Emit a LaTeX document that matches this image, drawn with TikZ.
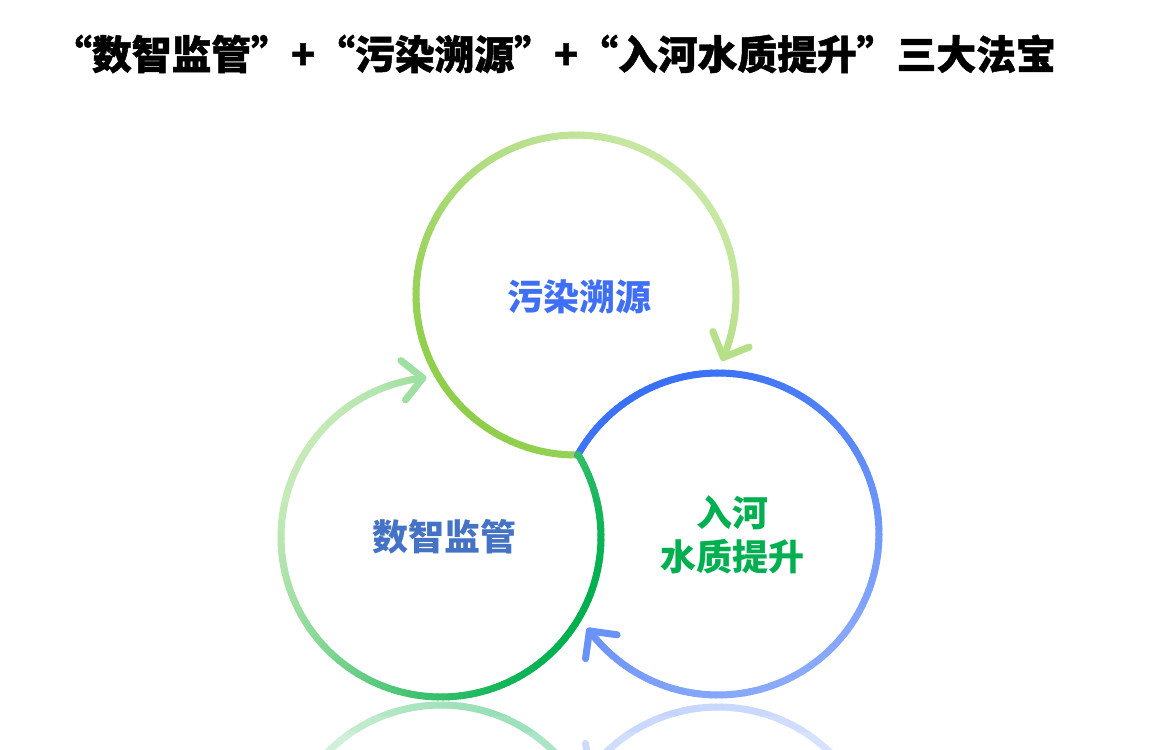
\documentclass[tikz,border=0pt]{standalone}
\usepackage{fontspec}
\newfontfamily\cjk{Noto Sans CJK SC}
\newfontfamily\cjktitle{Noto Sans CJK SC}[BoldFeatures={FakeBold=1.2}]
\definecolor{tgdark}{HTML}{8FCE4A}
\definecolor{tglight}{HTML}{C8E8A5}
\definecolor{bdark}{HTML}{3A70F6}
\definecolor{blight}{HTML}{8AAAFB}
\definecolor{gdark}{HTML}{00B050}
\definecolor{glight}{HTML}{C8EBB8}
\definecolor{labblue}{HTML}{3F6FF5}
\definecolor{labsteel}{HTML}{4472C4}
\definecolor{labgreen}{HTML}{00B050}
\newcommand\fadeop{100}
% cx cy r start end theta(light dir, screen) dark light
\newcommand\gradarc[8]{%
  \pgfmathtruncatemacro\gnseg{abs(#5-#4)/2}%
  \pgfmathsetmacro\gstep{(#5-#4)/\gnseg}%
  \foreach \i in {1,...,\gnseg}{%
    \pgfmathsetmacro\gaA{#4+\gstep*(\i-1)}%
    \pgfmathsetmacro\gaB{#4+\gstep*\i}%
    \pgfmathtruncatemacro\gpp{50+50*cos((\gaA+\gaB)/2+#6)}%
    \draw[ringline, draw=#8!\gpp!#7!\fadeop!white]
      ({#1+#3*cos(\gaA)},{#2-#3*sin(\gaA)}) -- ({#1+#3*cos(\gaB)},{#2-#3*sin(\gaB)});
  }%
  \pgfmathtruncatemacro\gpp{50+50*cos(#5+#6)}%
  \draw[ringline, draw=#8!\gpp!#7!\fadeop!white]
    ({#1+#3*cos(#5)+28*cos(#5+45)},{#2-#3*sin(#5)-28*sin(#5+45)})
    -- ({#1+#3*cos(#5)},{#2-#3*sin(#5)})
    -- ({#1+#3*cos(#5)+28*cos(#5+135)},{#2-#3*sin(#5)-28*sin(#5+135)});
}
\newcommand\lowerrings{%
  \gradarc{718}{534}{161}{150.7}{-143}{65}{bdark}{blight}%
  \gradarc{441}{537}{160}{31}{-263.5}{210}{gdark}{glight}%
}
\begin{document}
\begin{tikzpicture}[x=1pt,y=-1pt,
  ringline/.style={line width=7pt, line cap=round, line join=round},
  lab/.style={font=\cjk\bfseries\fontsize{36}{44}\selectfont, inner sep=0pt, align=center}]
\useasboundingbox (0,0) rectangle (1176,750);
\fill[white] (0,0) rectangle (1176,750);
\node[font=\cjktitle\bfseries\fontsize{39.8}{46}\selectfont, inner sep=0pt] (title) at (554,54)
  {“数智监管”+“污染溯源”+“入河水质提升”三大法宝};
% rings
\gradarc{576}{295}{160}{270}{-23}{-45}{tgdark}{tglight}
\lowerrings
% reflection
\begin{scope}
  \clip (0,701) rectangle (1176,716);
  \begin{scope}[yshift=-1402pt, yscale=-1]
    \renewcommand\fadeop{45}\lowerrings
  \end{scope}
\end{scope}
\begin{scope}
  \clip (0,716) rectangle (1176,732);
  \begin{scope}[yshift=-1402pt, yscale=-1]
    \renewcommand\fadeop{40}\lowerrings
  \end{scope}
\end{scope}
\begin{scope}
  \clip (0,732) rectangle (1176,750);
  \begin{scope}[yshift=-1402pt, yscale=-1]
    \renewcommand\fadeop{34}\lowerrings
  \end{scope}
\end{scope}
% labels
\node[lab, text=labblue] (wr) at (579,297) {污染溯源};
\node[lab, text=labsteel] (sz) at (444,537) {数智监管};
\node[lab, text=labgreen] (rh) at (732,535) {入河\\水质提升};
\end{tikzpicture}
\end{document}
